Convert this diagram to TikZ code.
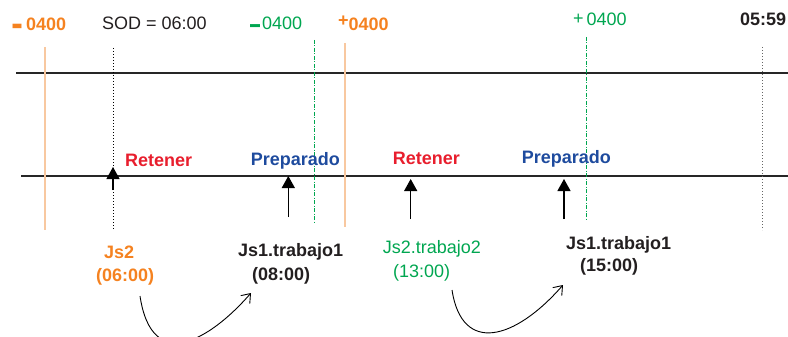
\documentclass[tikz,border=0pt]{standalone}
\usepackage{fontspec}
\setmainfont{Liberation Sans}
\usetikzlibrary{arrows.meta}
\definecolor{jsorange}{RGB}{245,130,32}
\definecolor{jsgreen}{RGB}{0,166,80}
\definecolor{jsred}{RGB}{232,30,45}
\definecolor{jsblue}{RGB}{30,75,158}
\definecolor{jsdark}{RGB}{35,31,32}
\definecolor{peach}{RGB}{248,200,160}
\tikzset{
  >={Straight Barb[length=8pt,width=12pt]},
}
\tikzstyle{every node}=[font=\fontsize{18}{21}\selectfont,inner sep=0pt,anchor=base west]
\tikzstyle{timeline}=[line width=1.1pt,black!85]
\tikzstyle{window}=[line width=1.2pt,peach]
\tikzstyle{sodmark}=[line width=0.8pt,dash pattern=on 1pt off 2pt]
\tikzstyle{offset}=[line width=0.9pt,jsgreen,dash pattern=on 4pt off 1.5pt on 1pt off 1.5pt]
\tikzstyle{push}=[line width=1.2pt,-{Triangle[width=13pt,length=12pt]}]
\tikzstyle{jump}=[line width=0.9pt,->]
% thick minus in front of the offsets
\newcommand{\barminus}{\raisebox{-0.43em}{\scalebox{1}[2.5]{\textendash}}}

\begin{document}
\begin{tikzpicture}[x=1pt,y=-1pt]
  \useasboundingbox (0,0) rectangle (788,337);
  \clip (0,0) rectangle (788,337);

  % the two time lines
  \draw[timeline] (16,73) -- (788,73);
  \draw[timeline] (21,176) -- (788,176);

  % offset windows and day limits
  \draw[window] (45,47) -- (45,230);
  \draw[window] (345,43) -- (345,227);
  \draw[sodmark] (113,48) -- (113,230);
  \draw[sodmark,black!60] (762,47) -- (762,230);
  \draw[offset] (314.5,40) -- (314.5,222);
  \draw[offset] (586,37) -- (586,220);

  % top labels
  \node[text=jsorange] (offA) at (12,31) {\bfseries\barminus\hspace{4pt}0400};
  \node[text=jsdark] (sod) at (102,30) {SOD = 06:00};
  \node[text=jsgreen] (offB) at (250,29.3) {\barminus\hspace{2pt}0400};
  \node[text=jsorange] (offC) at (338,30.7) {\bfseries\raisebox{0.25em}{+}0400};
  \node[text=jsgreen] (offD) at (573,26) {\raisebox{0.1em}{+}\,0400};
  \node[text=jsdark] (eod) at (740,26) {\bfseries 05:59};

  % states on the lower line
  \node[text=jsred] (holdA) at (125,166) {\bfseries Retener};
  \node[text=jsblue] (readyA) at (250.7,165.3) {\bfseries Preparado};
  \node[text=jsred] (holdB) at (392.7,164.3) {\bfseries Retener};
  \node[text=jsblue] (readyB) at (521.7,163.3) {\bfseries Preparado};

  % jobs and their times
  \node[text=jsorange] (js2) at (104,258) {\bfseries Js2};
  \node[text=jsorange] (js2time) at (96,281) {\bfseries (06:00)};
  \node[text=jsdark] (jobA) at (238,256) {\bfseries Js1.trabajo1};
  \node[text=jsdark] (jobAtime) at (252,280) {\bfseries (08:00)};
  \node[text=jsgreen] (jobB) at (382.7,253.3) {Js2.trabajo2};
  \node[text=jsgreen] (jobBtime) at (393,277.7) {(13:00)};
  \node[text=jsdark] (jobC) at (566,249.3) {\bfseries Js1.trabajo1};
  \node[text=jsdark] (jobCtime) at (580,271.7) {\bfseries (15:00)};

  % submit arrows
  \coordinate (pushA) at (113,190);   \coordinate (hitA) at (113,167);
  \coordinate (pushB) at (288.3,217); \coordinate (hitB) at (288.3,176);
  \coordinate (pushC) at (410.7,219); \coordinate (hitC) at (410.7,179);
  \coordinate (pushD) at (564,219);   \coordinate (hitD) at (564,179);
  \draw[push] (pushA) -- (hitA);
  \draw[push] (pushB) -- (hitB);
  \draw[push] (pushC) -- (hitC);
  \draw[push] (pushD) -- (hitD);

  % moves to the next job
  \coordinate (fromA) at (140,296); \coordinate (toA) at (251,293);
  \coordinate (fromB) at (452,290); \coordinate (toB) at (563,285);
  \draw[jump] (fromA) .. controls (152,375) and (210,340) .. (toA);
  \draw[jump] (fromB) .. controls (462,355) and (515,340) .. (toB);
\end{tikzpicture}
\end{document}
